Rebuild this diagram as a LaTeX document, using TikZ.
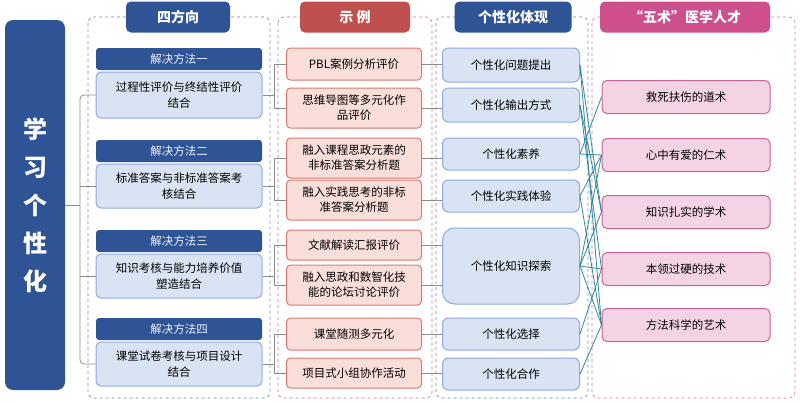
\documentclass[tikz,border=0pt]{standalone}
\usepackage{fontspec}
\setmainfont{Noto Sans CJK SC}
\definecolor{cdarkblue}{RGB}{47,84,150}
\definecolor{clightblue}{RGB}{218,227,243}
\definecolor{cblueline}{RGB}{143,170,220}
\definecolor{cred}{RGB}{192,80,77}
\definecolor{clightred}{RGB}{250,222,218}
\definecolor{credline}{RGB}{220,120,110}
\definecolor{cpink}{RGB}{205,80,140}
\definecolor{clightpink}{RGB}{244,212,228}
\definecolor{cpinkline}{RGB}{200,100,150}
\definecolor{cteal}{RGB}{49,133,156}
\definecolor{cgray}{RGB}{140,140,140}
\tikzset{
  frame/.style={draw, dashed, rounded corners=6pt, line width=0.6pt},
  head/.style={rounded corners=5pt, text=white, font=\bfseries\fontsize{14}{16}\selectfont, inner sep=0pt},
  sub/.style={fill=cdarkblue, rounded corners=3pt, text=white!85!cblueline, font=\fontsize{11.5}{13}\selectfont, minimum width=166pt, minimum height=22pt, inner sep=0pt},
  way/.style={draw=cblueline, fill=clightblue, rounded corners=5pt, line width=1pt, align=center, minimum width=166pt, font=\fontsize{11.5}{16}\selectfont, inner sep=0pt},
  case/.style={draw=credline, fill=clightred, rounded corners=4pt, line width=1pt, align=center, minimum width=135pt, font=\fontsize{11.5}{15}\selectfont, inner sep=0pt},
  show/.style={draw=cblueline, fill=clightblue, rounded corners=6pt, line width=1pt, align=center, minimum width=137pt, font=\fontsize{11.5}{14}\selectfont, inner sep=0pt},
  art/.style={draw=cpinkline, fill=clightpink, rounded corners=5pt, line width=1pt, minimum width=168pt, minimum height=33pt, font=\fontsize{11.5}{14}\selectfont, inner sep=0pt},
  link/.style={draw=cgray, line width=0.8pt},
  tie/.style={draw=cteal, line width=0.8pt}
}
\begin{document}
\begin{tikzpicture}[x=1pt, y=-1pt]
  \useasboundingbox (0,0) rectangle (800,402);

  % frames of the four columns
  \path[frame, cdarkblue!70] (88,17) rectangle (270,398);
  \path[frame, cred!80] (278,17) rectangle (432,398);
  \path[frame, cdarkblue!70] (436,17) rectangle (588,398);
  \path[frame, cpink!80] (592,17) rectangle (795,398);

  % headers
  \node[head, fill=cdarkblue, minimum width=104pt, minimum height=31pt] (h1) at (178,17) {四方向};
  \node[head, fill=cred, minimum width=110pt, minimum height=31pt] (h2) at (355,17) {示\ 例};
  \node[head, fill=cdarkblue, minimum width=117pt, minimum height=31pt] (h3) at (513,17) {个性化体现};
  \node[head, fill=cpink, minimum width=170pt, minimum height=31pt] (h4) at (685,17) {“五术”医学人才};

  % root
  \node[fill=cdarkblue, rounded corners=8pt, minimum width=60pt, minimum height=370pt, text width=30pt, align=center, text=white, font=\bfseries\fontsize{24}{38}\selectfont, inner sep=0pt] (root) at (35,205) {学\\习\\个\\性\\化};

  % four ways
  \node[sub] (s1) at (179,59) {解决方法一};
  \node[way, minimum height=46pt] (w1) at (179,95) {过程性评价与终结性评价\\结合};
  \node[sub] (s2) at (179,151) {解决方法二};
  \node[way, minimum height=44pt] (w2) at (179,186) {标准答案与非标准答案考\\核结合};
  \node[sub] (s3) at (179,241) {解决方法三};
  \node[way, minimum height=44pt] (w3) at (179,276) {知识考核与能力培养价值\\塑造结合};
  \node[sub] (s4) at (179,329) {解决方法四};
  \node[way, minimum height=44pt] (w4) at (179,364) {课堂试卷考核与项目设计\\结合};

  % cases
  \node[case, minimum height=32pt] (e1) at (354,64) {PBL案例分析评价};
  \node[case, minimum height=40pt] (e2) at (354,108) {思维导图等多元化作\\品评价};
  \node[case, minimum height=40pt] (e3) at (354,158) {融入课程思政元素的\\非标准答案分析题};
  \node[case, minimum height=40pt] (e4) at (354,200) {融入实践思考的非标\\准答案分析题};
  \node[case, minimum height=30pt] (e5) at (354,245) {文献解读汇报评价};
  \node[case, minimum height=40pt] (e6) at (354,285) {融入思政和数智化技\\能的论坛讨论评价};
  \node[case, minimum height=32pt] (e7) at (354,334) {课堂随测多元化};
  \node[case, minimum height=30pt] (e8) at (354,373) {项目式小组协作活动};

  % shows
  \node[show, minimum height=34pt] (q1) at (511,65) {个性化问题提出};
  \node[show, minimum height=34pt] (q2) at (511,105) {个性化输出方式};
  \node[show, minimum height=32pt] (q3) at (511,154) {个性化素养};
  \node[show, minimum height=32pt] (q4) at (511,196) {个性化实践体验};
  \node[show, minimum height=76pt, rounded corners=12pt] (q5) at (511,266) {个性化知识探索};
  \node[show, minimum height=32pt] (q6) at (511,334) {个性化选择};
  \node[show, minimum height=32pt] (q7) at (511,374) {个性化合作};

  % arts
  \node[art] (f1) at (686,97) {救死扶伤的道术};
  \node[art] (f2) at (686,155) {心中有爱的仁术};
  \node[art] (f3) at (686,212) {知识扎实的学术};
  \node[art] (f4) at (686,269) {本领过硬的技术};
  \node[art] (f5) at (686,325) {方法科学的艺术};

  % tree from root
  \draw[link] (root.east) -- (80,205);
  \draw[link, rounded corners=4pt] (w1.west) -| (80,364) -- (w4.west);
  \draw[link] (80,186) -- (w2.west);
  \draw[link] (80,276) -- (w3.west);

  % ways to cases
  \foreach \w/\a/\b in {w1/e1/e2, w2/e3/e4, w3/e5/e6, w4/e7/e8} {
    \draw[link] (\w.east) -- (274,0 |- \w.east);
    \draw[link] (\a.west) -| (274,0 |- \b.west) -- (\b.west);
  }

  % cases to shows
  \foreach \a/\b in {e1/q1, e2/q2, e3/q3, e4/q4, e7/q6, e8/q7}
    \draw[link] (\a.east) -- (\a.east -| \b.west);
  \draw[link] (e5.east) -- (e5.east -| q5.west);
  \draw[link] (e6.east) -- (e6.east -| q5.west);

  % shows to arts
  \foreach \a/\b in {q1/f3, q1/f5, q2/f3, q2/f4, q3/f1, q3/f2, q4/f2, q4/f5,
                     q5/f2, q5/f3, q5/f4, q5/f5, q6/f4, q7/f5}
    \draw[tie] (\a.east) -- (\b.west);
\end{tikzpicture}
\end{document}
